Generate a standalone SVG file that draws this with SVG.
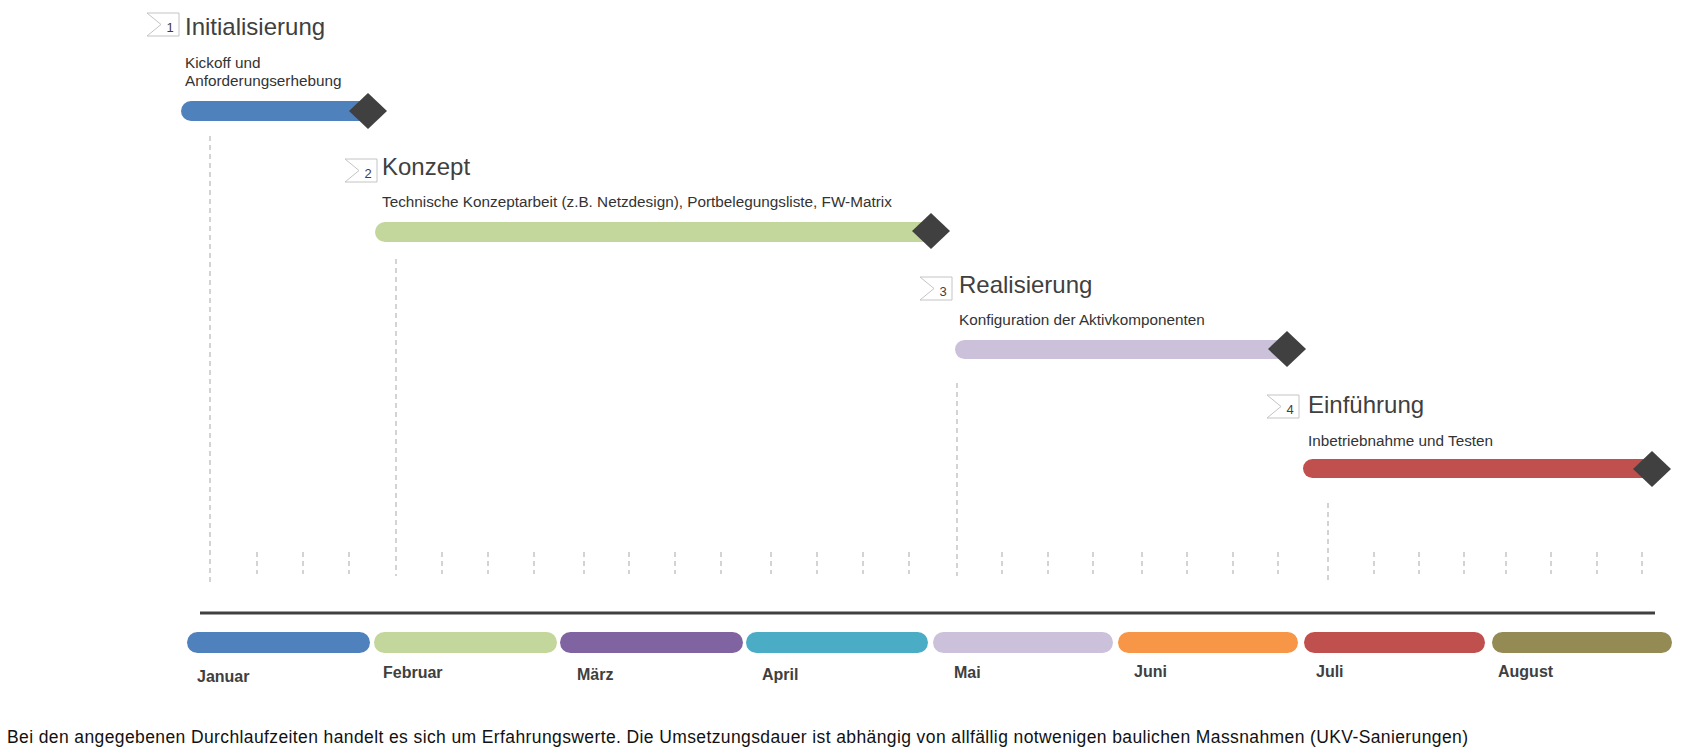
<svg xmlns="http://www.w3.org/2000/svg" width="1708" height="755" viewBox="0 0 1708 755">
<defs>
<style>
.title{font-family:"Liberation Sans",Arial,sans-serif;font-size:24px;fill:#404040}
.sub{font-family:"Liberation Sans",Arial,sans-serif;font-size:15.3px;fill:#333}
.num{font-family:"Liberation Sans",Arial,sans-serif;font-size:13px;fill:#404040;text-anchor:middle}
.chev{fill:#fff;stroke:#c4c4c4;stroke-width:1}
.month{font-family:"Liberation Sans",Arial,sans-serif;font-size:16px;font-weight:bold;fill:#404040}
.foot{font-family:"Liberation Sans",Arial,sans-serif;font-size:17.5px;fill:#111}
.dash{stroke:#d3d3d3;stroke-width:2;stroke-dasharray:5,4;fill:none}
.dia{fill:#404040}
</style>
<polygon id="chevShape" points="0,0 32,0 32,23 0,23 14,11.5"/>
</defs>

<g id="guides">
<line class="dash" x1="210" y1="136" x2="210" y2="582"/>
<line class="dash" x1="396" y1="259" x2="396" y2="576"/>
<line class="dash" x1="957" y1="383" x2="957" y2="576"/>
<line class="dash" x1="1328" y1="503" x2="1328" y2="583"/>
</g>

<g id="ticks" class="dash">
<path d="M257 552V574M303 552V574M349 552V574M442 552V574M488 552V574M534 552V574M584 552V574M629 552V574M675 552V574M721 552V574M771 552V574M817 552V574M863 552V574M909 552V574M1002 552V574M1048 552V574M1093 552V574M1142 552V574M1187 552V574M1233 552V574M1278 552V574M1374 552V574M1419 552V574M1464 552V574M1506 552V574M1551 552V574M1597 552V574M1642 552V574"/>
</g>

<line id="axis" x1="200" y1="613" x2="1655" y2="613" stroke="#404040" stroke-width="3"/>

<g id="phase1">
<use href="#chevShape" class="chev" x="147" y="13"/>
<text class="num" x="170" y="32">1</text>
<text class="title" x="185" y="35">Initialisierung</text>
<text class="sub" x="185" y="68">Kickoff und</text>
<text class="sub" x="185" y="86">Anforderungserhebung</text>
<rect x="181" y="101" width="190" height="20" rx="10" fill="#4f81bd"/>
<polygon class="dia" points="368,93 387,111 368,129 349,111"/>
</g>

<g id="phase2">
<use href="#chevShape" class="chev" x="345" y="159"/>
<text class="num" x="368" y="178">2</text>
<text class="title" x="382" y="175">Konzept</text>
<text class="sub" x="382" y="207">Technische Konzeptarbeit (z.B. Netzdesign), Portbelegungsliste, FW-Matrix</text>
<rect x="375" y="222" width="560" height="20" rx="10" fill="#c3d69b"/>
<polygon class="dia" points="931,213 950,231 931,249 912,231"/>
</g>

<g id="phase3">
<use href="#chevShape" class="chev" x="920" y="277"/>
<text class="num" x="943" y="296">3</text>
<text class="title" x="959" y="293">Realisierung</text>
<text class="sub" x="959" y="325">Konfiguration der Aktivkomponenten</text>
<rect x="955" y="340" width="335" height="19" rx="9.5" fill="#ccc1da"/>
<polygon class="dia" points="1287,331 1306,349 1287,367 1268,349"/>
</g>

<g id="phase4">
<use href="#chevShape" class="chev" x="1267" y="395"/>
<text class="num" x="1290" y="414">4</text>
<text class="title" x="1308" y="413">Einführung</text>
<text class="sub" x="1308" y="446">Inbetriebnahme und Testen</text>
<rect x="1303" y="459" width="352" height="19" rx="9.5" fill="#c0504d"/>
<polygon class="dia" points="1652,451 1671,469 1652,487 1633,469"/>
</g>

<g id="months">
<rect x="187" y="632" width="183" height="21" rx="10.5" fill="#4f81bd"/>
<rect x="374" y="632" width="183" height="21" rx="10.5" fill="#c3d69b"/>
<rect x="560" y="632" width="183" height="21" rx="10.5" fill="#8064a2"/>
<rect x="746" y="632" width="182" height="21" rx="10.5" fill="#4bacc6"/>
<rect x="933" y="632" width="180" height="21" rx="10.5" fill="#ccc1da"/>
<rect x="1118" y="632" width="180" height="21" rx="10.5" fill="#f79646"/>
<rect x="1304" y="632" width="181" height="21" rx="10.5" fill="#c0504d"/>
<rect x="1492" y="632" width="180" height="21" rx="10.5" fill="#948a54"/>
<text class="month" x="197" y="682">Januar</text>
<text class="month" x="383" y="678">Februar</text>
<text class="month" x="577" y="680">März</text>
<text class="month" x="762" y="680">April</text>
<text class="month" x="954" y="678">Mai</text>
<text class="month" x="1134" y="677">Juni</text>
<text class="month" x="1316" y="677">Juli</text>
<text class="month" x="1498" y="677">August</text>
</g>

<text id="footer" class="foot" x="7" y="743" textLength="1461" lengthAdjust="spacing">Bei den angegebenen Durchlaufzeiten handelt es sich um Erfahrungswerte. Die Umsetzungsdauer ist abhängig von allfällig notwenigen baulichen Massnahmen (UKV-Sanierungen)</text>
</svg>
